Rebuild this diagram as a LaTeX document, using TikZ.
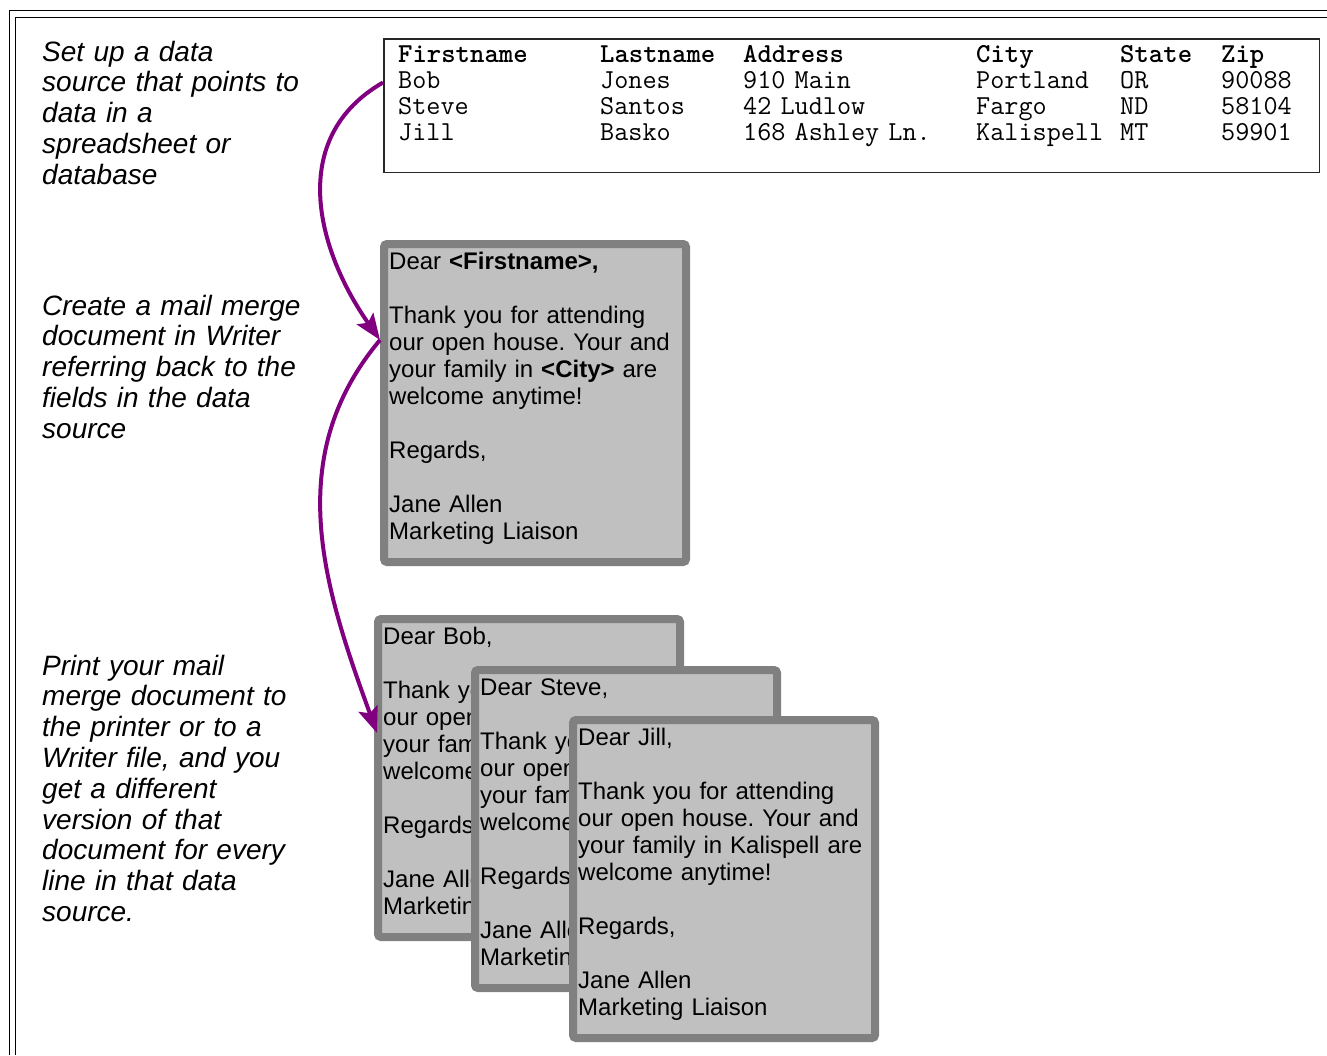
\documentclass[tikz,border=0pt]{standalone}
\usepackage{fontspec}
\setmainfont{Liberation Sans}
\usetikzlibrary{arrows.meta, positioning, calc}
\definecolor{mmpurple}{RGB}{128, 0, 128}
\definecolor{mmgray}{RGB}{128, 128, 128}
\definecolor{mmsilver}{RGB}{192, 192, 192}
\tikzset{
  letter/.style={rectangle, rounded corners=3pt, draw=mmgray, fill=mmsilver, line width=8pt,
                 minimum width=302pt, minimum height=318pt, anchor=north west, inner sep=0pt},
  lettertext/.style={anchor=base west, inner sep=0pt, text width=300pt, align=left,
                     font=\fontsize{24}{27}\selectfont\frenchspacing},
  note/.style={anchor=base west, inner sep=0pt, text width=290pt, align=left,
               font=\fontsize{28}{30.8}\selectfont\itshape},
  tabcol/.style={anchor=base west, inner sep=0pt, text width=220pt, align=left,
                 font=\fontsize{27.4}{25.8}\selectfont\ttfamily},
  tablebox/.style={rectangle, draw=black!85, line width=1.5pt, minimum width=935.5pt,
                   minimum height=133.5pt, anchor=north west, inner sep=0pt},
  mergearrow/.style={-{Stealth[length=26pt, width=20pt, inset=5pt]}, line width=4pt, color=mmpurple},
}
\newcommand{\mergeletter}[2]{Dear #1,\\[27pt]
  Thank you for attending\\our open house. Your and\\your family in #2 are\\welcome anytime!\\[27pt]
  Regards,\\[27pt]Jane Allen\\Marketing Liaison}

\begin{document}
\begin{tikzpicture}[x=1pt, y=1pt]
        \useasboundingbox (0,0) rectangle (1327,-1055);
        % double frame
        \draw[line width=1.5pt] (9.5,-1055) -- (9.5,-10.5) -- (1327,-10.5);
        \draw[line width=1.5pt] (15.5,-1055) -- (15.5,-17.5) -- (1327,-17.5);

        % steps
        \node[note] (stepsource) at (42,-61)
             {Set up a data\\source that points to\\data in a\\spreadsheet or\\database};
        \node[note] (stepwriter) at (42,-315)
             {Create a mail merge\\document in Writer\\referring back to the\\fields in the data\\source};
        \node[note] (stepprint) at (42,-675)
             {Print your mail\\merge document to\\the printer or to a\\Writer file, and you\\get a different\\version of that\\document for every\\line in that data\\source.};

        % data source
        \node[tablebox] (datasrc) at (383,-38) {};
        \node[tabcol] (colfirst) at (398,-62.7)
             {\textbf{Firstname}\\Bob\\Steve\\Jill};
        \node[tabcol] (collast) at (600,-62.7)
             {\textbf{Lastname}\\Jones\\Santos\\Basko};
        \node[tabcol] (coladdr) at (743,-62.7)
             {\textbf{Address}\\910 Main\\42 Ludlow\\168 Ashley Ln.};
        \node[tabcol] (colcity) at (976,-62.7)
             {\textbf{City}\\Portland\\Fargo\\Kalispell};
        \node[tabcol] (colstate) at (1120,-62.7)
             {\textbf{State}\\OR\\ND\\MT};
        \node[tabcol] (colzip) at (1221,-62.7)
             {\textbf{Zip}\\90088\\58104\\59901};

        % merge document
        \node[letter] (tmpl) at (380,-240) {};
        \node[lettertext] (tmpltext) at ([xshift=9pt,yshift=-29pt]tmpl.north west)
             {Dear \textbf{<Firstname>,}\\[27pt]
              Thank you for attending\\our open house. Your and\\your family in \textbf{<City>} are\\welcome anytime!\\[27pt]
              Regards,\\[27pt]Jane Allen\\Marketing Liaison};

        % printed letters
        \node[letter] (bob) at (374,-615) {};
        \node[lettertext] (bobtext) at ([xshift=9pt,yshift=-29pt]bob.north west)
             {\mergeletter{Bob}{Portland}};
        \node[letter] (steve) at (471,-666) {};
        \node[lettertext] (stevetext) at ([xshift=9pt,yshift=-29pt]steve.north west)
             {\mergeletter{Steve}{Fargo}};
        \node[letter] (jill) at (569,-716) {};
        \node[lettertext] (jilltext) at ([xshift=9pt,yshift=-29pt]jill.north west)
             {\mergeletter{Jill}{Kalispell}};

        % arrows
        \coordinate (srcrow) at ([yshift=23pt]datasrc.west);
        \coordinate (tmplin) at ([yshift=63pt]tmpl.west);
        \coordinate (bobin) at ([xshift=3pt,yshift=45pt]bob.west);
        \draw[mergearrow] (srcrow) to[out=210, in=125, looseness=1.1] (tmplin);
        \draw[mergearrow] (tmplin) to[out=230, in=110, looseness=1.0] (bobin);
      \end{tikzpicture}
\end{document}
